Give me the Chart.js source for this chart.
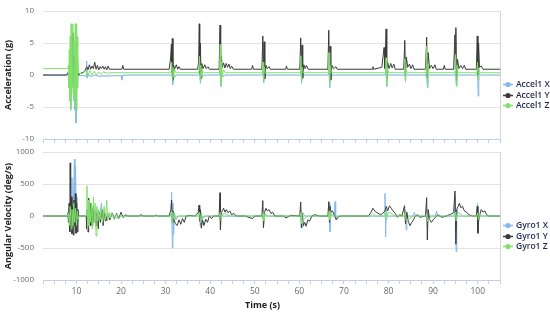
<!DOCTYPE html>
<html><head><meta charset="utf-8">
<script src="https://cdn.jsdelivr.net/npm/chart.js@4.4.1/dist/chart.umd.min.js"></script>
<style>
html,body{margin:0;padding:0;background:#fff;width:550px;height:320px;overflow:hidden}
#wrapA{position:absolute;left:0;top:0;width:550px;height:146px}
#wrapB{position:absolute;left:0;top:146px;width:550px;height:174px}
</style></head><body>
<div id="wrapA"><canvas id="accel" width="550" height="146"></canvas></div>
<div id="wrapB"><canvas id="gyro" width="550" height="174"></canvas></div>
<script>
// ---------- data: [time (s), value] ----------
const accelNames = ["Accel1 X", "Accel1 Y", "Accel1 Z"];
const gyroNames = ["Gyro1 X", "Gyro1 Y", "Gyro1 Z"];
const accelTicks = [-10, -5, 0, 5, 10];
const gyroTicks = [-1000, -500, 0, 500, 1000];
const timeLabels = [10, 20, 30, 40, 50, 60, 70, 80, 90, 100];

const accelX = [[2.5,0],[8.2,0],[8.4,-1],[8.6,1.5],[8.75,-5.3],[8.9,0.5],[9.2,-2],[9.4,1],[9.6,-5.5],[9.75,1],[9.9,-7.5],[10.05,0.8],[10.2,-2],[10.4,0],[11.5,-0.1],[12.2,-0.2],[12.3,2.2],[12.4,-0.5],[12.7,0.2],[13.2,-0.3],[14,0],[15,-0.2],[20.0,-0.1],[20.2,-0.8],[20.4,0],[31.3,0],[31.45,0.6],[31.6,-1.5],[31.75,0.3],[32,-0.4],[32.3,0],[37.5,0],[37.65,0.5],[37.8,-1.3],[37.95,0.2],[38.3,-0.2],[38.6,0],[42.1,0],[42.25,0.6],[42.4,-1.8],[42.55,0.2],[42.9,-0.3],[43.2,0],[51.7,0],[51.85,0.5],[52.0,-1.2],[52.2,0.2],[52.5,0],[60.2,0],[60.35,0.5],[60.5,-1.3],[60.65,0.2],[61,0],[66.5,0],[66.65,0.5],[66.8,-2.0],[66.95,0.2],[67.3,0],[79.3,0],[79.45,0.5],[79.6,-1.8],[79.75,0.2],[80.1,0],[83.5,0],[83.65,0.4],[83.8,-1.1],[83.95,0.2],[84.3,0],[88.4,0],[88.55,0.5],[88.7,-2.0],[88.85,0.2],[89.2,0],[94.9,0],[95.05,0.5],[95.2,-1.5],[95.35,0.2],[95.7,0],[99.8,0],[99.95,0.4],[100.1,-3.3],[100.25,0.3],[100.6,0],[105,0]];

const accelY = [[2.5,0],[7.8,0],[8.1,0.4],[8.3,0.5],[8.5,-0.8],[8.7,2],[8.9,-1],[9.1,6.6],[9.2,-1.5],[9.4,3],[9.6,-0.5],[9.8,7.9],[9.9,-1],[10.1,2],[10.3,0.5],[10.5,0],[11.0,0.3],[11.8,0.5],[12.3,1.3],[12.6,0.8],[12.9,1.6],[13.2,0.9],[13.5,1.4],[13.8,1.0],[14.1,2.0],[14.4,0.9],[14.7,1.5],[15.0,0.8],[15.3,1.3],[15.6,1.0],[15.9,1.4],[16.2,0.9],[16.5,1.3],[16.8,0.8],[17.1,1.4],[17.4,0.9],[18.0,0.9],[20.2,0.9],[20.4,1.5],[20.6,0.9],[30.8,0.9],[31.1,2.5],[31.3,4.8],[31.4,0.5],[31.5,5.7],[31.65,-0.8],[31.8,1.5],[32.0,0.9],[32.4,1.6],[32.7,0.9],[33.0,1.3],[33.3,0.9],[37.2,0.9],[37.4,2.0],[37.55,8.0],[37.65,0.2],[37.8,5.0],[37.95,-0.5],[38.1,1.8],[38.4,1.0],[38.8,1.6],[39.1,1.0],[39.5,1.3],[39.8,0.9],[42.0,0.9],[42.2,7.8],[42.35,-1.0],[42.5,3.0],[42.7,1.2],[43.0,1.9],[43.3,1.1],[43.6,1.8],[43.9,1.2],[44.2,1.7],[44.5,1.0],[44.8,1.4],[45.2,0.9],[49.3,0.9],[49.5,1.5],[49.7,0.9],[51.6,0.9],[51.8,6.1],[51.95,0.2],[52.1,5.2],[52.25,-0.6],[52.5,1.5],[52.8,1.0],[53.2,1.3],[53.5,0.9],[56.9,0.9],[57.1,1.4],[57.3,0.9],[60.1,0.9],[60.3,5.8],[60.45,0.3],[60.6,4.7],[60.75,-0.5],[61.0,1.6],[61.3,1.0],[61.6,1.5],[62.0,0.9],[66.4,0.9],[66.6,7.0],[66.75,0.2],[66.9,4.5],[67.05,-0.8],[67.3,1.5],[67.7,1.0],[68.2,1.3],[68.5,0.9],[76.3,0.9],[76.5,1.3],[76.7,0.9],[78.5,1.2],[79.0,4.3],[79.2,1.0],[79.45,7.2],[79.6,-0.5],[79.8,2.0],[80.1,1.0],[80.5,1.8],[80.8,1.1],[81.2,1.7],[81.5,0.9],[83.4,0.9],[83.65,5.4],[83.8,0.0],[84.0,2.8],[84.3,1.2],[84.7,1.7],[85.0,1.0],[85.4,1.6],[85.7,0.9],[88.3,0.9],[88.55,5.9],[88.7,-0.5],[88.9,3.5],[89.2,1.0],[89.6,1.5],[90.0,1.0],[90.4,1.6],[90.7,0.9],[92.3,0.9],[92.5,1.5],[92.7,0.9],[94.6,0.9],[94.9,6.3],[95.0,1.0],[95.1,7.4],[95.25,-0.8],[95.45,2.5],[95.8,1.0],[96.2,1.5],[96.6,1.0],[97.0,1.5],[97.3,0.9],[99.7,0.9],[99.9,6.1],[100.05,0.0],[100.2,5.0],[100.4,1.2],[100.8,1.4],[101.2,0.9],[105,0.9]];

const accelZ = [[2.5,1.0],[8.0,1.0],[8.2,1.5],[8.3,-2],[8.4,4],[8.5,-4],[8.6,6],[8.7,-5.5],[8.8,8],[8.9,-3],[9.0,7],[9.1,-2],[9.2,8],[9.3,-4],[9.45,5],[9.6,-5],[9.75,8],[9.85,-3],[9.95,8],[10.05,-5.5],[10.15,6],[10.25,-2],[10.35,3],[10.5,0.3],[10.8,0.2],[11.5,0.3],[12.3,0.8],[12.6,-0.2],[13.0,0.7],[13.5,0.0],[14.0,0.6],[14.5,0.0],[15.0,0.5],[15.5,0.1],[16.0,0.5],[17.0,0.3],[18,0.35],[31.2,0.35],[31.35,2.0],[31.5,-0.7],[31.65,1.2],[31.8,-0.3],[32.0,0.8],[32.3,0.35],[37.45,0.35],[37.6,2.9],[37.75,-0.8],[37.9,1.5],[38.05,-0.2],[38.3,0.6],[38.6,0.35],[42.1,0.35],[42.25,4.8],[42.4,-1.5],[42.55,2.0],[42.7,-0.3],[43.0,0.8],[43.4,0.35],[51.7,0.35],[51.85,2.0],[52.0,-0.7],[52.15,1.2],[52.35,0.35],[60.2,0.35],[60.35,3.0],[60.5,-1.0],[60.65,1.2],[60.9,0.35],[66.5,0.35],[66.65,3.5],[66.8,-1.2],[66.95,1.5],[67.2,0.35],[79.3,0.35],[79.45,2.7],[79.6,-1.5],[79.75,1.2],[80.0,0.35],[83.5,0.35],[83.65,2.5],[83.8,-0.8],[83.95,1.0],[84.2,0.35],[88.4,0.35],[88.55,4.5],[88.7,-1.5],[88.85,1.8],[89.1,0.35],[94.9,0.35],[95.05,3.2],[95.2,-1.8],[95.35,1.5],[95.6,0.35],[99.8,0.35],[99.95,2.0],[100.1,-0.8],[100.25,1.0],[100.5,0.35],[105,0.35]];

const gyroX = [[2.5,0],[8.0,0],[8.3,100],[8.5,-100],[8.8,300],[9.0,600],[9.1,-50],[9.3,200],[9.55,890],[9.65,-100],[9.8,785],[9.95,-200],[10.1,300],[10.3,-100],[10.5,0],[12.3,0],[12.4,100],[12.6,-80],[12.9,150],[13.2,-100],[13.6,120],[14.0,-60],[14.6,100],[15.0,-80],[15.6,200],[15.9,-60],[16.3,60],[17,0],[18,30],[19,-30],[20,0],[30.9,0],[31.2,100],[31.35,375],[31.5,-500],[31.65,200],[31.8,-300],[32.0,50],[32.3,-60],[32.8,0],[37.4,0],[37.6,100],[37.75,-150],[37.9,60],[38.2,-50],[38.6,0],[42.1,0],[42.3,-80],[42.5,50],[42.8,0],[51.8,0],[52.0,-80],[52.2,40],[52.5,0],[60.2,0],[60.4,80],[60.6,-180],[60.8,50],[61.2,0],[66.5,0],[66.7,200],[66.85,-245],[67.0,50],[67.3,0],[67.8,0],[68.0,224],[68.15,-50],[68.4,0],[79.0,0],[79.2,354],[79.35,-328],[79.5,100],[79.7,0],[83.6,0],[83.8,80],[83.95,-218],[84.1,30],[84.4,0],[85.5,0],[85.8,60],[86.0,0],[88.4,0],[88.6,60],[88.8,-60],[89,0],[90.5,0],[90.8,80],[91.0,0],[94.8,0],[95.0,302],[95.15,-557],[95.3,100],[95.5,0],[99.8,0],[99.95,198],[100.1,-100],[100.3,0],[105,0]];

const gyroY = [[2.5,0],[8.0,0],[8.1,50],[8.2,-100],[8.35,200],[8.5,-250],[8.6,830],[8.7,-200],[8.85,300],[9.0,-280],[9.15,150],[9.3,-300],[9.45,250],[9.6,-150],[9.75,350],[9.9,-270],[10.05,200],[10.2,-250],[10.35,100],[10.5,0],[12.2,0],[12.3,-200],[12.45,100],[12.6,-250],[12.75,280],[12.9,-100],[13.05,200],[13.2,-150],[13.4,100],[13.6,-200],[13.8,150],[14.0,-100],[14.2,80],[14.4,-150],[14.6,50],[14.9,-200],[15.1,60],[15.4,-100],[15.7,100],[16.0,-150],[16.3,50],[16.6,-80],[17.0,30],[17.5,-60],[18.0,50],[18.5,-50],[19,40],[19.5,-40],[20.0,60],[20.5,-30],[21.0,20],[21.5,0],[24,0],[24.5,20],[25,0],[27.5,0],[27.8,15],[28.2,0],[30.8,0],[31.2,100],[31.35,250],[31.5,-100],[31.65,80],[31.8,-50],[32.2,-120],[32.6,-150],[33.0,-60],[33.4,-130],[33.8,-40],[34.2,-100],[34.6,0],[35.5,10],[36.5,0],[37.3,50],[37.5,170],[37.65,-80],[37.8,100],[38.0,-190],[38.3,-60],[38.6,-150],[39.0,-50],[39.4,-100],[39.8,0],[40.3,-40],[40.8,0],[42.0,0],[42.2,364],[42.3,-218],[42.45,50],[42.7,80],[43.0,120],[43.3,60],[43.6,100],[44.0,50],[44.4,80],[44.8,20],[45.3,40],[45.8,0],[48,0],[48.5,-20],[49.5,-40],[50,0],[51.6,0],[51.8,240],[51.95,-183],[52.2,60],[52.5,120],[52.8,80],[53.2,100],[53.6,40],[54.0,60],[54.5,0],[56.5,0],[57,-30],[58,10],[60.1,0],[60.3,218],[60.45,-183],[60.6,50],[60.9,-150],[61.2,-100],[61.5,-160],[61.9,-60],[62.3,-80],[62.8,0],[63.5,20],[64.5,0],[66.4,0],[66.6,224],[66.75,-100],[66.9,150],[67.1,60],[67.4,80],[67.8,20],[68.3,-60],[68.7,-20],[69.2,0],[75.5,0],[76.0,50],[76.5,120],[77.0,70],[77.5,50],[78.2,20],[78.7,40],[79.2,80],[79.5,150],[79.8,80],[80.2,160],[80.6,120],[81.0,80],[81.5,40],[82.0,-20],[82.5,20],[83.0,0],[83.6,161],[83.8,-120],[84.1,60],[84.4,-80],[84.8,-150],[85.2,-100],[85.6,-60],[86.0,0],[86.5,20],[87.0,-20],[88.3,0],[88.55,286],[88.7,-375],[88.9,100],[89.2,-50],[89.6,-100],[90.0,-60],[90.4,-30],[91.0,20],[92.0,-20],[93,0],[94.0,30],[94.6,50],[94.9,390],[95.1,-442],[95.3,100],[95.6,150],[95.9,200],[96.2,130],[96.6,150],[97.0,80],[97.5,60],[98.0,20],[98.8,0],[99.7,0],[99.9,150],[100.05,-270],[100.2,-80],[100.5,30],[100.8,100],[101.2,60],[101.6,80],[102.0,20],[102.5,0],[105,0]];

const gyroZ = [[2.5,0],[8.0,0],[8.2,50],[8.4,-150],[8.6,150],[8.8,-200],[9.0,100],[9.2,-150],[9.4,200],[9.6,-100],[9.8,120],[10.0,-150],[10.2,80],[10.4,-50],[10.6,0],[12.2,0],[12.35,473],[12.5,-200],[12.65,250],[12.8,-150],[13.0,200],[13.2,-100],[13.4,150],[13.6,-200],[13.8,300],[14.0,-100],[14.2,200],[14.4,-312],[14.6,150],[14.8,-80],[15.0,100],[15.3,-60],[15.6,120],[15.9,-100],[16.2,150],[16.5,-50],[16.8,250],[17.0,-80],[17.3,60],[17.6,-30],[18,40],[18.5,-50],[19,30],[19.5,-40],[20.0,20],[20.5,-20],[21,0],[31.1,0],[31.3,80],[31.45,-120],[31.6,60],[31.8,-40],[32.2,-30],[32.8,0],[37.4,0],[37.6,60],[37.8,-100],[38.0,40],[38.4,-30],[39,0],[42.1,0],[42.3,60],[42.45,-80],[42.7,30],[43.2,40],[43.8,20],[44.5,0],[51.7,0],[51.9,50],[52.05,-80],[52.3,30],[52.8,0],[60.2,0],[60.4,60],[60.55,-120],[60.8,-60],[61.3,-40],[61.8,0],[66.5,0],[66.7,80],[66.85,-60],[67.1,40],[67.6,0],[76,0],[76.5,40],[77,0],[79.2,0],[79.4,80],[79.55,-60],[79.8,40],[80.3,60],[81,20],[81.6,0],[83.6,0],[83.8,60],[83.95,-80],[84.4,-40],[85,-30],[85.5,0],[88.4,0],[88.6,50],[88.75,-80],[89.1,-40],[89.7,0],[94.8,0],[95.0,60],[95.15,-80],[95.4,60],[96,40],[96.6,0],[99.8,0],[100.0,50],[100.15,-60],[100.5,30],[101,0],[105,0]];

// ---------- styling ----------
const COLORS = ["#86b8ec", "#3a3a3a", "#80e06a"];
const FONT = "'Open Sans', 'Liberation Sans', sans-serif";
const AXIS_BLUE = "#bfd1ea";
const GRID = "#e3e3e3";

function toPts(arr){ return arr.map(p => ({x: p[0], y: p[1]})); }

function makeDatasets(series, names){
  return series.map((s, i) => ({
    label: names[i],
    data: toPts(s),
    borderColor: COLORS[i],
    backgroundColor: COLORS[i],
    borderWidth: 1,
    pointRadius: 0,
    tension: 0,
    order: 3 - i
  }));
}

// pin the plot area to the reference's position
const areaPlugin = {
  id: 'area',
  afterLayout(chart, args, opts){
    const a = chart.chartArea;
    const top = opts.top, bottom = opts.bottom;
    a.top = top; a.bottom = bottom; a.height = bottom - top;
    const y = chart.scales.y;
    y.top = top; y.bottom = bottom; y.height = bottom - top; y.configure();
    const x = chart.scales.x;
    const h = x.height;
    x.top = bottom; x.bottom = bottom + h; x.configure();
  }
};

const framePlugin = {
  id: 'frame',
  afterDraw(chart, args, opts){
    const {ctx, chartArea: a} = chart;
    ctx.save();
    ctx.strokeStyle = "#d4d4d4";
    ctx.lineWidth = 1;
    ctx.beginPath();
    ctx.moveTo(Math.round(a.right) + 0.5, a.top);
    ctx.lineTo(Math.round(a.right) + 0.5, a.bottom);
    ctx.stroke();
    // legend
    const mid = (a.top + a.bottom) / 2;
    chart.data.datasets.forEach((ds, i) => {
      const y = Math.round(mid + 9 + i * 10.5) + 0.5;
      const x0 = a.right + 3;
      ctx.strokeStyle = ds.borderColor;
      ctx.fillStyle = ds.borderColor;
      ctx.lineWidth = 1.5;
      ctx.beginPath(); ctx.moveTo(x0, y); ctx.lineTo(x0 + 10, y); ctx.stroke();
      ctx.beginPath(); ctx.arc(x0 + 5, y, 2.6, 0, Math.PI * 2); ctx.fill();
      ctx.fillStyle = "#1e2550";
      ctx.font = "600 8.5px " + FONT;
      ctx.textBaseline = "middle";
      ctx.textAlign = "left";
      ctx.fillText(ds.label, x0 + 13, y);
    });
    // x-axis title
    if (opts.xTitle) {
      ctx.fillStyle = "#222";
      ctx.font = "bold 9px " + FONT;
      ctx.textAlign = "center";
      ctx.textBaseline = "middle";
      ctx.fillText(opts.xTitle, (a.left + a.right) / 2 - 9, a.bottom + 25);
    }
    ctx.restore();
  }
};

function makeChart(id, series, names, yTicks, yTitle, showX, areaTop, areaBottom, xHeight){
  const yMin = yTicks[0], yMax = yTicks[yTicks.length - 1];
  return new Chart(document.getElementById(id), {
    type: 'line',
    data: { datasets: makeDatasets(series, names) },
    plugins: [areaPlugin, framePlugin],
    options: {
      responsive: false,
      animation: false,
      devicePixelRatio: 1,
      layout: { padding: { top: areaTop, right: 50, left: 0, bottom: 0 } },
      plugins: {
        legend: { display: false }, tooltip: { enabled: false },
        area: { top: areaTop, bottom: areaBottom },
        frame: { xTitle: showX ? 'Time (s)' : '' }
      },
      scales: {
        x: {
          type: 'linear', min: 2.5, max: 105,
          afterFit: s => { s.height = xHeight; },
          border: { color: AXIS_BLUE, width: 1 },
          grid: { drawOnChartArea: false, drawTicks: true, tickLength: 4, color: AXIS_BLUE },
          ticks: {
            stepSize: 2.5, autoSkip: false, maxRotation: 0, padding: 2,
            color: "#6a6a6a", font: { family: FONT, size: 8.5 },
            callback: v => (showX && timeLabels.some(t => Math.abs(t - v) < 1e-6)) ? String(Math.round(v)) : ''
          },
          title: { display: false }
        },
        y: {
          min: yMin, max: yMax,
          afterFit: s => { s.width = 43; },
          afterBuildTicks: s => { s.ticks = yTicks.map(v => ({ value: v })); },
          border: { display: false },
          grid: { color: GRID, drawTicks: false, lineWidth: 1 },
          ticks: { padding: 9, color: "#6a6a6a", font: { family: FONT, size: 8 }, callback: v => String(v) },
          title: { display: true, text: yTitle, color: '#222', font: { family: FONT, size: 9, weight: 'bold' }, padding: { top: 3, bottom: 0 } }
        }
      }
    }
  });
}

makeChart('accel', [accelX, accelY, accelZ], accelNames, accelTicks, 'Acceleration (g)', false, 11, 139, 7);
makeChart('gyro', [gyroX, gyroY, gyroZ], gyroNames, gyroTicks, 'Angular Velocity (deg/s)', true, 6, 134, 40);
</script>
</body></html>
